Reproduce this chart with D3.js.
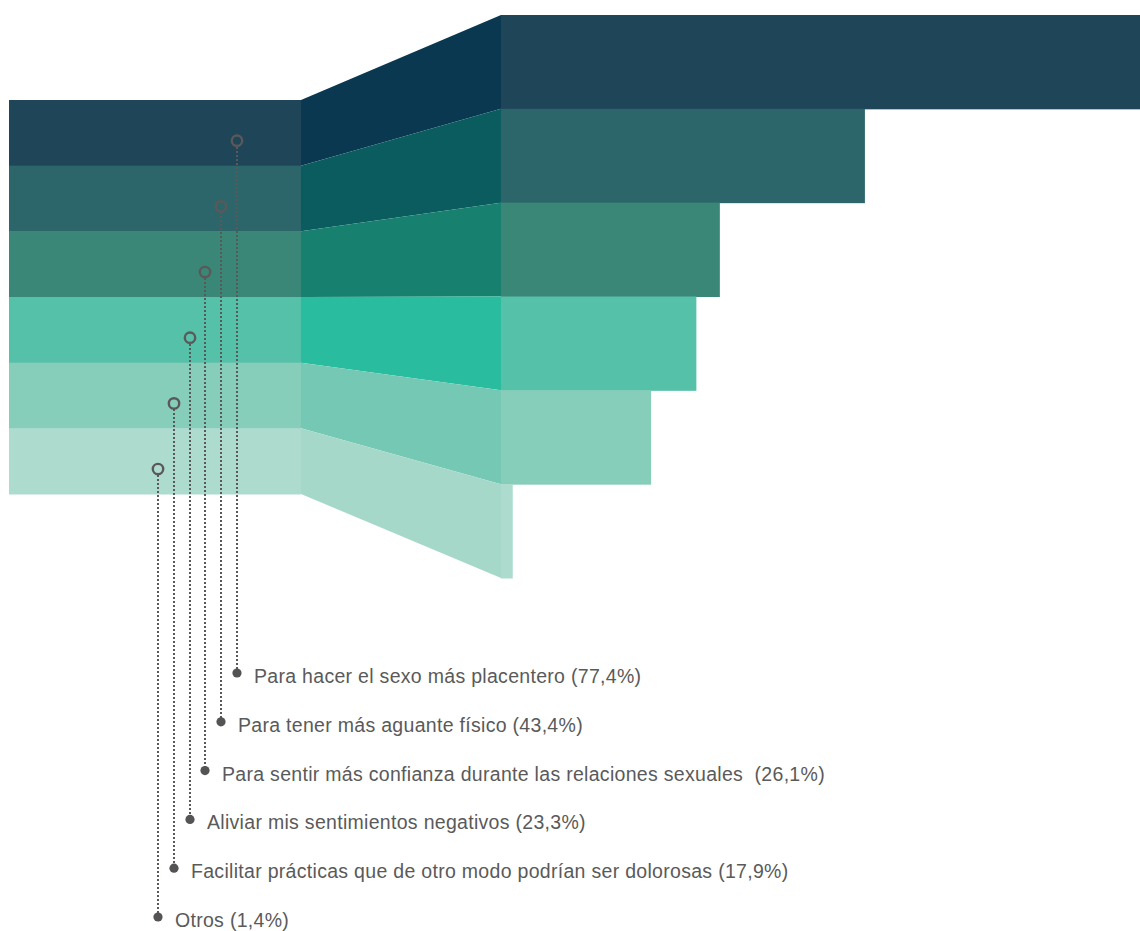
<!DOCTYPE html>
<html>
<head>
<meta charset="utf-8">
<script src="https://cdn.jsdelivr.net/npm/d3@7"></script>
<style>
  html, body { margin: 0; padding: 0; background: #fff; }
  svg { display: block; }
  .label { white-space: pre; }
</style>
</head>
<body>
<svg id="chart" width="1140" height="931"></svg>
<script>
// Motivos declarados (porcentaje de respuestas)
const categories = [
  "Para hacer el sexo más placentero",
  "Para tener más aguante físico",
  "Para sentir más confianza durante las relaciones sexuales ",
  "Aliviar mis sentimientos negativos",
  "Facilitar prácticas que de otro modo podrían ser dolorosas",
  "Otros"
];
const values = [77.4, 43.4, 26.1, 23.3, 17.9, 1.4];
const valueLabels = ["77,4%", "43,4%", "26,1%", "23,3%", "17,9%", "1,4%"];

// Fill for the flat faces and for the slanted connecting faces
const faceColors = ["#1f4559", "#2c666b", "#3b8777", "#56c1a9", "#86cdba", "#addccf"];
const sideColors = ["#093850", "#0a5c5e", "#18806e", "#29bc9f", "#75c8b4", "#a6d8ca"];

const svg = d3.select("#chart");

// Left stack: equal bands; right stack: bars sized by value
const leftY = d3.scaleBand().domain(categories).range([100, 494]);
const rightY = d3.scaleBand().domain(categories).range([15, 578]);
const leftX = [9, 301];
const x = d3.scaleLinear().domain([0, 100]).range([501, 1339.5]);

const rows = categories.map((c, i) => ({ c, i, v: values[i], lab: valueLabels[i] }));

// Left flat bands
svg.append("g").selectAll("rect").data(rows).join("rect")
  .attr("x", leftX[0])
  .attr("y", d => leftY(d.c))
  .attr("width", leftX[1] - leftX[0])
  .attr("height", leftY.bandwidth() + 0.5)
  .attr("fill", d => faceColors[d.i]);

// Slanted connectors between the two stacks
svg.append("g").selectAll("path").data(rows).join("path")
  .attr("d", d => {
    const x0 = leftX[1], x1 = x(0);
    const l0 = leftY(d.c), l1 = l0 + leftY.bandwidth();
    const r0 = rightY(d.c), r1 = r0 + rightY.bandwidth();
    return `M${x0},${l0}L${x1},${r0}L${x1},${r1}L${x0},${l1}Z`;
  })
  .attr("fill", d => sideColors[d.i]);

// Right value bars
svg.append("g").selectAll("rect").data(rows).join("rect")
  .attr("x", x(0))
  .attr("y", d => rightY(d.c))
  .attr("width", d => x(d.v) - x(0))
  .attr("height", rightY.bandwidth() + 0.5)
  .attr("fill", d => faceColors[d.i]);

// Leader lines from each band down to its label
const markerX = d3.scalePoint().domain(categories).range([237, 158]);
const labelY = d3.scalePoint().domain(categories).range([676, 920]);
const ink = "#5b585a";
const mx = d => Math.round(markerX(d.c));
const ringY = d => leftY(d.c) + leftY.bandwidth() * 0.62;

const leaders = svg.append("g");
leaders.selectAll("line").data(rows).join("line")
  .attr("x1", mx)
  .attr("x2", mx)
  .attr("y1", d => Math.round(ringY(d) + 6))
  .attr("y2", d => Math.round(labelY(d.c) - 3))
  .attr("stroke", ink)
  .attr("stroke-width", 2)
  .attr("stroke-dasharray", "2,2");

leaders.selectAll("circle.ring").data(rows).join("circle")
  .attr("class", "ring")
  .attr("cx", mx)
  .attr("cy", ringY)
  .attr("r", 5.2)
  .attr("fill", "none")
  .attr("stroke", ink)
  .attr("stroke-width", 2.4);

leaders.selectAll("circle.dot").data(rows).join("circle")
  .attr("class", "dot")
  .attr("cx", mx)
  .attr("cy", d => labelY(d.c) - 3)
  .attr("r", 4.6)
  .attr("fill", "#555355");

svg.append("g").selectAll("text").data(rows).join("text")
  .attr("class", "label")
  .attr("x", d => mx(d) + 17)
  .attr("y", d => labelY(d.c))
  .attr("dy", "0.36em")
  .attr("font-family", "'Liberation Sans', Arial, sans-serif")
  .attr("font-size", 19.5)
  .attr("letter-spacing", 0.3)
  .attr("fill", "#5a5a5a")
  .text(d => `${d.c} (${d.lab})`);
</script>
</body>
</html>
